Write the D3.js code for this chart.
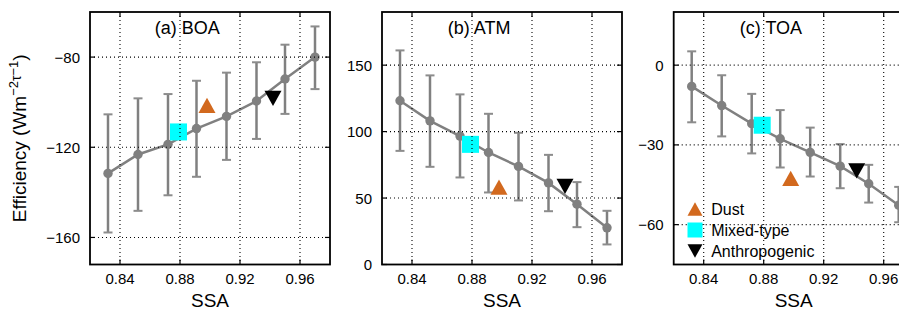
<!DOCTYPE html>
<html>
<head>
<meta charset="utf-8">
<script src="https://cdn.jsdelivr.net/npm/d3@7"></script>
<style>
  body { margin: 0; background: #fff; }
  text { font-family: "Liberation Sans", Arial, Helvetica, sans-serif; fill: #000; }
  .tick-label { font-size: 15px; }
  .axis-title { font-size: 19px; }
  .panel-title { font-size: 18px; }
  .legend-text { font-size: 16px; }
</style>
</head>
<body>
<div id="chart"></div>
<script>
// SSA bins (x values)
const ssa = [0.832, 0.852, 0.872, 0.891, 0.911, 0.931, 0.950, 0.970];

// BOA efficiency, mean and error range
const boa   = [-131.6, -123.2, -118.7, -111.7, -106.3, -99.5, -89.7, -80.0];
const boaLo = [-157.8, -148.2, -141.3, -133.1, -125.6, -116.3, -105.2, -94.2];
const boaHi = [-105.4, -98.3, -96.4, -90.5, -86.9, -82.3, -74.5, -66.4];

// ATM efficiency
const atm   = [123.2, 108.1, 96.6, 84.3, 73.8, 61.4, 45.4, 27.6];
const atmLo = [85.5, 73.5, 65.5, 54.2, 48.2, 40.1, 28.1, 15.1];
const atmHi = [161.1, 142.3, 128.0, 113.4, 99.1, 82.5, 62.0, 40.4];

// TOA efficiency
const toa   = [-8.0, -15.2, -22.0, -27.7, -32.8, -38.0, -44.6, -52.7];
const toaLo = [-21.5, -26.8, -33.2, -38.5, -41.9, -46.3, -51.7, -59.1];
const toaHi = [5.2, -3.8, -10.8, -16.9, -23.5, -29.7, -37.5, -45.8];

// aerosol types: Dust, Mixed-type, Anthropogenic
const typeNames = ["Dust", "Mixed-type", "Anthropogenic"];
const typeSSA = [0.898, 0.879, 0.942];
const typeBOA = [-101.4, -113.2, -98.3];
const typeATM = [58.2, 90.4, 58.8];
const typeTOA = [-42.6, -22.6, -39.8];

// tick values
const xTicks = [0.84, 0.88, 0.92, 0.96];
const boaTicks = [-160, -120, -80];
const atmTicks = [0, 50, 100, 150];
const toaTicks = [-60, -30, 0];

const W = 899, H = 310;
const pw = 240, pTop = 12, pBottom = 264.5;
const typeColors = ["#d2691e", "#00ffff", "#000000"];
const gray = "#808080";

const svg = d3.select("#chart").append("svg")
  .attr("width", W).attr("height", H);

const panels = [
  {left: 90,    title: "(a) BOA", y: boa, lo: boaLo, hi: boaHi, ty: typeBOA, dom: [-172, -60], ticks: boaTicks, legend: false},
  {left: 382,   title: "(b) ATM", y: atm, lo: atmLo, hi: atmHi, ty: typeATM, dom: [0, 190],    ticks: atmTicks, legend: false},
  {left: 673.7, title: "(c) TOA", y: toa, lo: toaLo, hi: toaHi, ty: typeTOA, dom: [-75, 20],   ticks: toaTicks, legend: true}
];

function fmt(v) {
  return (v < 0 ? "\u2212" : "") + Math.abs(v);
}

// marker shapes centred on (cx, cy)
function markerPath(i, cx, cy, s) {
  const h = s * 0.9;
  if (i === 0) return `M${cx},${cy - h/2}L${cx + s/2},${cy + h/2}L${cx - s/2},${cy + h/2}Z`;
  if (i === 1) return `M${cx - s/2},${cy - s/2}h${s}v${s}h${-s}Z`;
  return `M${cx - s/2},${cy - h/2}L${cx + s/2},${cy - h/2}L${cx},${cy + h/2}Z`;
}

panels.forEach(p => {
  const x = d3.scaleLinear().domain([0.82, 0.98]).range([p.left, p.left + pw]);
  const y = d3.scaleLinear().domain(p.dom).range([pBottom, pTop]);
  const g = svg.append("g");

  // error bars
  ssa.forEach((s, i) => {
    g.append("line")
      .attr("x1", x(s)).attr("x2", x(s))
      .attr("y1", y(p.lo[i])).attr("y2", y(p.hi[i]))
      .attr("stroke", gray).attr("stroke-width", 2.5);
    [p.lo[i], p.hi[i]].forEach(v => {
      g.append("line")
        .attr("x1", x(s) - 4.5).attr("x2", x(s) + 4.5)
        .attr("y1", y(v)).attr("y2", y(v))
        .attr("stroke", "#8c8c8c").attr("stroke-width", 2);
    });
  });

  // mean line
  g.append("path")
    .datum(ssa.map((s, i) => [s, p.y[i]]))
    .attr("d", d3.line().x(d => x(d[0])).y(d => y(d[1])))
    .attr("fill", "none").attr("stroke", gray).attr("stroke-width", 2.5);

  g.selectAll("circle.pt")
    .data(ssa)
    .join("circle")
      .attr("class", "pt")
      .attr("cx", d => x(d))
      .attr("cy", (d, i) => y(p.y[i]))
      .attr("r", 4.7)
      .attr("fill", gray);

  // aerosol type markers
  typeSSA.forEach((s, i) => {
    g.append("path")
      .attr("d", markerPath(i, x(s), y(p.ty[i]), 17))
      .attr("fill", typeColors[i]);
  });

  // dotted grid on top
  xTicks.forEach(t => {
    g.append("line")
      .attr("x1", x(t)).attr("x2", x(t)).attr("y1", pTop).attr("y2", pBottom)
      .attr("stroke", "#000").attr("stroke-width", 1.1).attr("stroke-dasharray", "1,3");
  });
  p.ticks.forEach(t => {
    g.append("line")
      .attr("x1", p.left).attr("x2", p.left + pw).attr("y1", y(t)).attr("y2", y(t))
      .attr("stroke", "#000").attr("stroke-width", 1.1).attr("stroke-dasharray", "1,3");
  });

  // inward ticks on all four sides
  xTicks.forEach(t => {
    g.append("line").attr("x1", x(t)).attr("x2", x(t)).attr("y1", pBottom).attr("y2", pBottom - 5)
      .attr("stroke", "#000").attr("stroke-width", 1.2);
    g.append("line").attr("x1", x(t)).attr("x2", x(t)).attr("y1", pTop).attr("y2", pTop + 5)
      .attr("stroke", "#000").attr("stroke-width", 1.2);
    g.append("text").attr("class", "tick-label")
      .attr("x", x(t)).attr("y", 283.5).attr("text-anchor", "middle").text(t.toFixed(2));
  });
  p.ticks.forEach(t => {
    g.append("line").attr("x1", p.left).attr("x2", p.left + 5).attr("y1", y(t)).attr("y2", y(t))
      .attr("stroke", "#000").attr("stroke-width", 1.2);
    g.append("line").attr("x1", p.left + pw).attr("x2", p.left + pw - 5).attr("y1", y(t)).attr("y2", y(t))
      .attr("stroke", "#000").attr("stroke-width", 1.2);
    g.append("text").attr("class", "tick-label")
      .attr("x", p.left - 10).attr("y", y(t) + 5.5).attr("text-anchor", "end").text(fmt(t));
  });

  // frame
  g.append("rect")
    .attr("x", p.left).attr("y", pTop).attr("width", pw).attr("height", pBottom - pTop)
    .attr("fill", "none").attr("stroke", "#000").attr("stroke-width", 1.8);

  // titles
  g.append("text").attr("class", "panel-title")
    .attr("x", p.left + pw * 0.405).attr("y", 34).attr("text-anchor", "middle").text(p.title);
  g.append("text").attr("class", "axis-title")
    .attr("x", p.left + pw / 2).attr("y", 306.5).attr("text-anchor", "middle").text("SSA");

  // legend
  if (p.legend) {
    typeNames.forEach((n, i) => {
      const ly = 209 + i * 21;
      g.append("path")
        .attr("d", markerPath(i, p.left + 21.3, ly, 15))
        .attr("fill", typeColors[i]);
      g.append("text").attr("class", "legend-text")
        .attr("x", p.left + 37.5).attr("y", ly + 6).text(n);
    });
  }
});

// y axis label
const yl = svg.append("text").attr("class", "axis-title")
  .attr("transform", `translate(26,${(pTop + pBottom) / 2}) rotate(-90)`)
  .attr("text-anchor", "middle");
yl.append("tspan").text("Efficiency (Wm");
yl.append("tspan").attr("dy", -8).attr("font-size", 13).text("\u22122");
yl.append("tspan").attr("dy", 3).attr("font-size", 14).text("\u03c4");
yl.append("tspan").attr("dy", -3).attr("font-size", 13).text("\u22121");
yl.append("tspan").attr("dy", 8).text(")");
</script>
</body>
</html>
